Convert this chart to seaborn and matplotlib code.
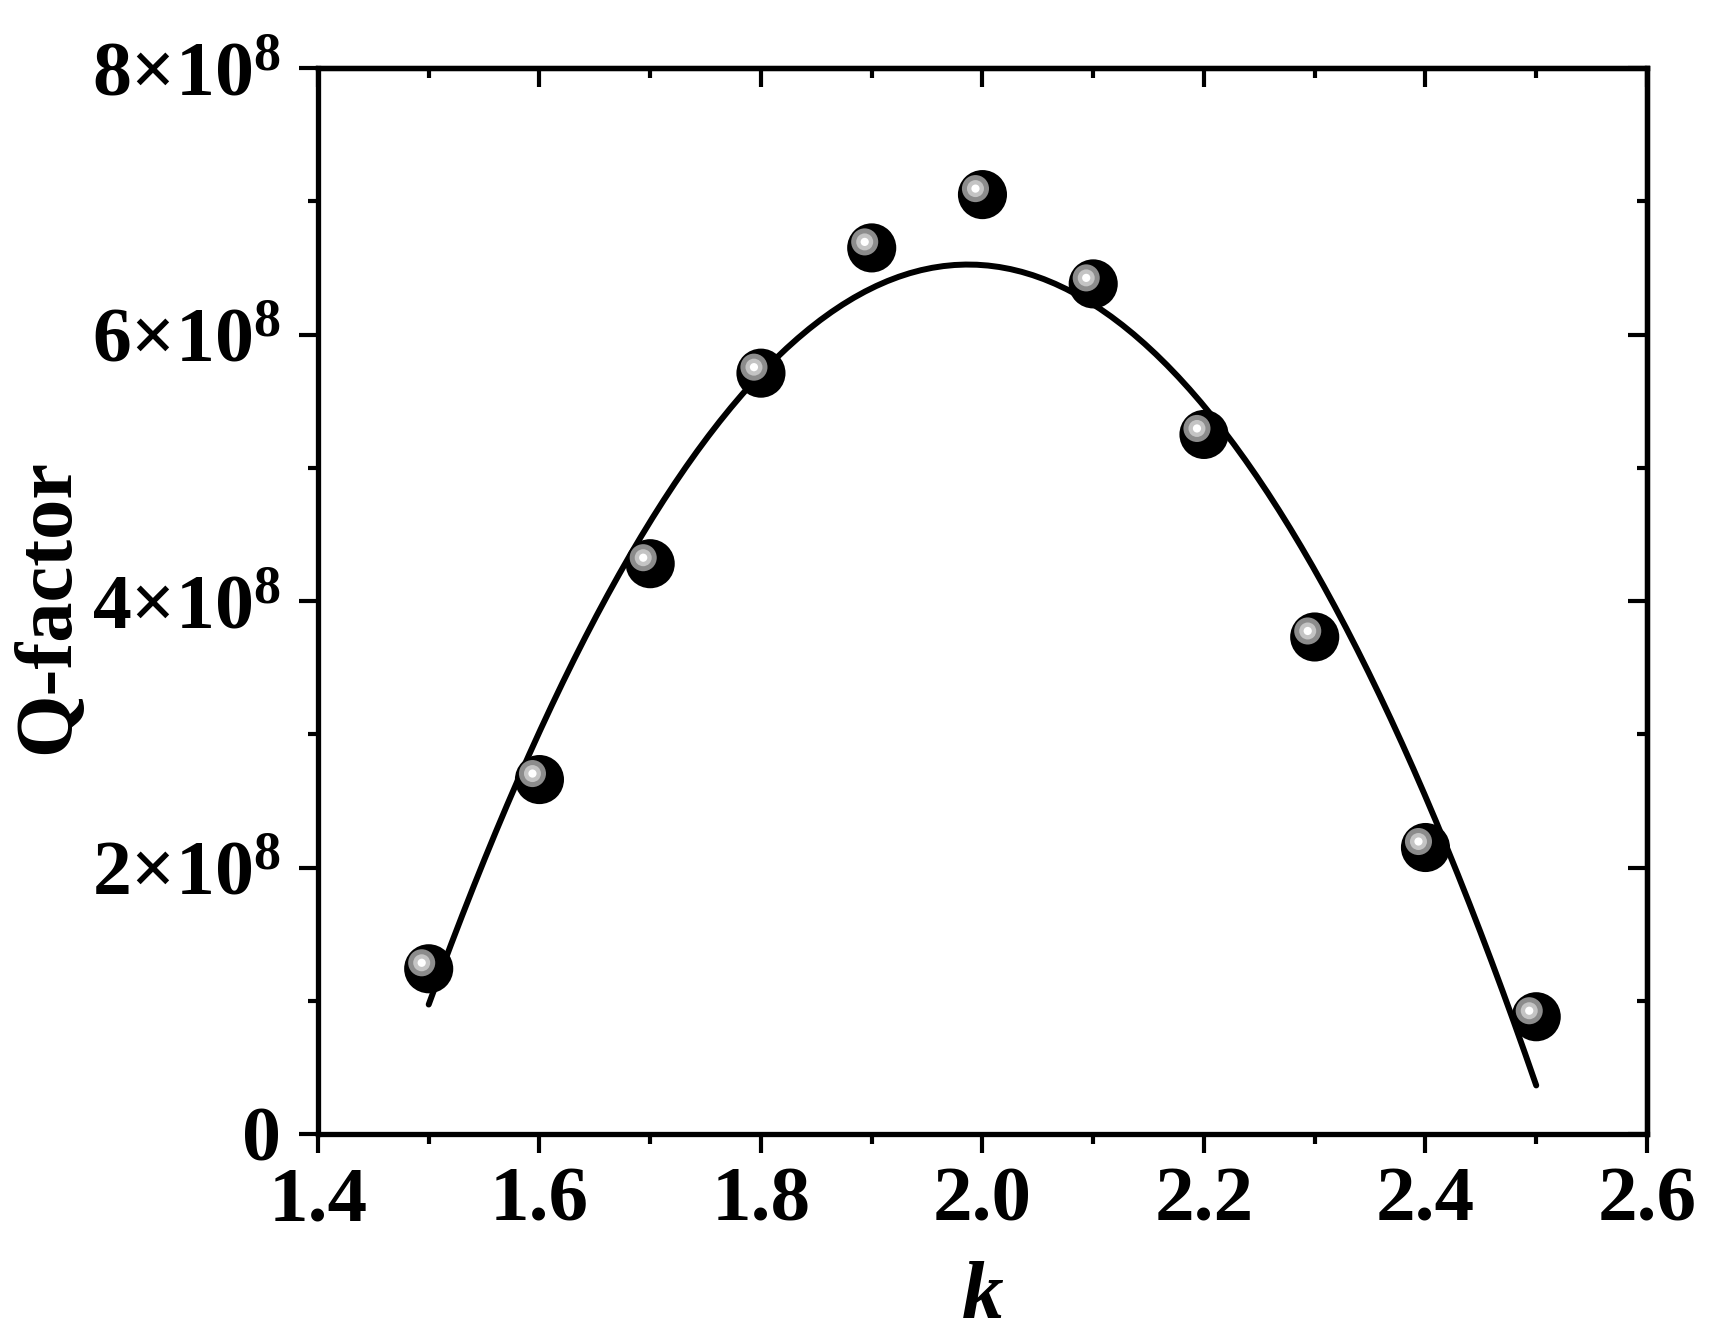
"""
Q-factor vs k: measured points with a quadratic fit.
"""

import numpy as np
import pandas as pd
import seaborn as sns
import matplotlib.pyplot as plt
import matplotlib.ticker as mtick
import matplotlib.transforms as mtrans

# ---------------------------------------------------------------------------
# Data
# ---------------------------------------------------------------------------

k_values = [1.5, 1.6, 1.7, 1.8, 1.9, 2.0, 2.1, 2.2, 2.3, 2.4, 2.5]
q_factor = [1.24e8, 2.66e8, 4.28e8, 5.71e8, 6.65e8, 7.05e8,
            6.38e8, 5.25e8, 3.73e8, 2.15e8, 0.88e8]

x_ticks = [1.4, 1.6, 1.8, 2.0, 2.2, 2.4, 2.6]
y_ticks = [0, 2e8, 4e8, 6e8, 8e8]

# ---------------------------------------------------------------------------
# Style
# ---------------------------------------------------------------------------

sns.set_style('ticks')
plt.rcParams['font.family'] = ['Liberation Serif', 'DejaVu Serif']
plt.rcParams['font.weight'] = 'bold'
plt.rcParams['mathtext.fontset'] = 'custom'
plt.rcParams['mathtext.rm'] = 'Liberation Serif:bold'
plt.rcParams['mathtext.it'] = 'Liberation Serif:italic:bold'
plt.rcParams['mathtext.bf'] = 'Liberation Serif:bold'
for key in ['text.color', 'axes.labelcolor', 'xtick.color', 'ytick.color',
            'xtick.labelcolor', 'ytick.labelcolor', 'axes.edgecolor']:
    plt.rcParams[key] = 'black'

SPINE_W = 3.8
MAJ_LEN, MIN_LEN, TICK_W = 13.5, 7, 3.0

df = pd.DataFrame({'k': k_values, 'Q': q_factor})

fig = plt.figure(figsize=(17.14, 13.39), dpi=100)
ax = fig.add_axes([0.1855, 0.1531, 0.7754, 0.7961])

# quadratic fit line
sns.regplot(data=df, x='k', y='Q', order=2, ci=None, scatter=False,
            truncate=True, line_kws=dict(color='black', lw=4.3), ax=ax)

# "sphere" markers: black ball + offset highlight layers
sns.scatterplot(data=df, x='k', y='Q', s=1250, color='black',
                edgecolor='none', ax=ax, zorder=3, legend=False)

shift = mtrans.ScaledTranslation(-7 / 100, 6 / 100, fig.dpi_scale_trans)
for size, col in [(380, '#8c8c8c'), (150, '#c4c4c4'), (35, '#ffffff')]:
    sns.scatterplot(data=df, x='k', y='Q', s=size, color=col,
                    edgecolor='none', ax=ax, zorder=4, legend=False)
    ax.collections[-1].set_offset_transform(ax.transData + shift)

# ---------------------------------------------------------------------------
# Axes
# ---------------------------------------------------------------------------

ax.set_xlim(1.4, 2.6)
ax.set_ylim(0, 8e8)
ax.set_xticks(x_ticks)
ax.set_yticks(y_ticks)
ax.xaxis.set_minor_locator(mtick.MultipleLocator(0.1))
ax.yaxis.set_minor_locator(mtick.MultipleLocator(1e8))
ax.xaxis.set_major_formatter(mtick.FuncFormatter(lambda v, _: f'{v:.1f}'))


def sci_fmt(v, _):
    if v == 0:
        return '0'
    m = int(round(v / 1e8))
    return r'$%d{\times}10^{8}$' % m


ax.yaxis.set_major_formatter(mtick.FuncFormatter(sci_fmt))

for s in ax.spines.values():
    s.set_visible(True)
    s.set_linewidth(SPINE_W)
    s.set_color('black')

ax.tick_params(which='major', direction='out', length=MAJ_LEN, width=TICK_W,
               color='black', labelcolor='black')
ax.tick_params(which='minor', direction='out', length=MIN_LEN, width=TICK_W,
               color='black')
ax.tick_params(axis='x', pad=10, labelsize=57)
ax.tick_params(axis='y', pad=13, labelsize=56)

# inward ticks on the top and right frame
top = ax.secondary_xaxis('top')
top.set_xticks(x_ticks)
top.xaxis.set_minor_locator(mtick.MultipleLocator(0.1))
top.tick_params(which='major', direction='in', length=MAJ_LEN, width=TICK_W,
                labeltop=False)
top.tick_params(which='minor', direction='in', length=MIN_LEN, width=TICK_W)
top.spines['top'].set_linewidth(SPINE_W)

right = ax.secondary_yaxis('right')
right.set_yticks(y_ticks)
right.yaxis.set_minor_locator(mtick.MultipleLocator(1e8))
right.tick_params(which='major', direction='in', length=MAJ_LEN, width=TICK_W,
                  labelright=False)
right.tick_params(which='minor', direction='in', length=MIN_LEN, width=TICK_W)
right.spines['right'].set_linewidth(SPINE_W)

ax.set_xlabel('k', fontsize=60, fontweight='bold', fontstyle='italic')
ax.set_ylabel('Q-factor', fontsize=58, fontweight='bold')
ax.xaxis.set_label_coords(0.5, -0.119)
ax.yaxis.set_label_coords(-0.175, 0.495)

fig.savefig('out.png', dpi=100, facecolor='white')
